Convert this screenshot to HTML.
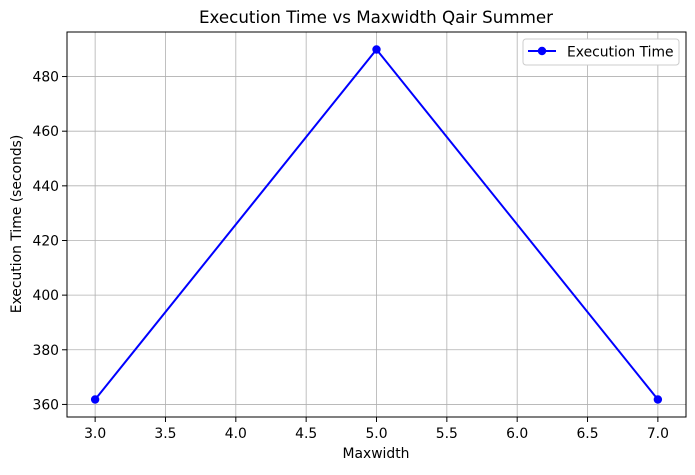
<!DOCTYPE html>
<html><head><meta charset="utf-8"><style>
body{margin:0;background:#fff;font-family:"Liberation Sans","DejaVu Sans",sans-serif;}
svg text{font-family:"DejaVu Sans","Liberation Sans",sans-serif;}
</style></head><body>
<svg id="chart" width="695" height="470">
<rect width="695" height="470" fill="#fff"/>
<g id="grid"></g><g id="axes"></g><g id="series"></g>
<text x="376" y="23" text-anchor="middle" font-size="16.7">Execution Time vs Maxwidth Qair Summer</text>
<text x="376" y="458" text-anchor="middle" font-size="13.9">Maxwidth</text>
<text transform="translate(21,224) rotate(-90)" text-anchor="middle" font-size="13.9">Execution Time (seconds)</text>
<g>
<rect x="523" y="39" width="156" height="26" rx="3" fill="#fff" stroke="#ccc"/>
<line x1="528" y1="51" x2="556" y2="51" stroke="blue" stroke-width="2"/>
<circle cx="542" cy="51" r="4.2" fill="blue"/>
<text x="567" y="56.5" font-size="13.9">Execution Time</text>
</g>
</svg>
<script>
const xs=[3,5,7];
const times=[361.8,489.9,361.8];
const xTicks=[3.0,3.5,4.0,4.5,5.0,5.5,6.0,6.5,7.0];
const yTicks=[360,380,400,420,440,460,480];
const L=67,R=686,T=32,B=417;
const xmin=2.8,xmax=7.2,ymin=355.4,ymax=496.3;
const X=v=>L+(v-xmin)/(xmax-xmin)*(R-L);
const Y=v=>B-(v-ymin)/(ymax-ymin)*(B-T);
const NS="http://www.w3.org/2000/svg";
function mk(t,a,p){const e=document.createElementNS(NS,t);for(const k in a)e.setAttribute(k,a[k]);p.appendChild(e);return e;}
const g=document.getElementById('grid'),ax=document.getElementById('axes'),s=document.getElementById('series');
xTicks.forEach(v=>{const x=X(v);
const l=mk('line',{x1:x,x2:x,y1:T,y2:B,stroke:'#b0b0b0','stroke-width':0.8},g);

mk('line',{x1:x,x2:x,y1:B,y2:B+5,stroke:'#000'},ax);
const t=mk('text',{x:x,y:B+21,'text-anchor':'middle','font-size':13.9},ax);t.textContent=v.toFixed(1);
});
yTicks.forEach(v=>{const y=Y(v);
const l=mk('line',{x1:L,x2:R,y1:y,y2:y,stroke:'#b0b0b0','stroke-width':0.8},g);

mk('line',{x1:L-5,x2:L,y1:y,y2:y,stroke:'#000'},ax);
const t=mk('text',{x:L-8,y:y+5,'text-anchor':'end','font-size':13.9},ax);t.textContent=v;
});
const fr=mk('rect',{x:L,y:T,width:R-L,height:B-T,fill:'none',stroke:'#000','stroke-width':1},ax);

const pl=mk('polyline',{points:xs.map((v,i)=>X(v)+','+Y(times[i])).join(' '),fill:'none',stroke:'blue','stroke-width':2},s);

xs.forEach((v,i)=>{const c=mk('circle',{cx:X(v),cy:Y(times[i]),r:4.2,fill:'blue'},s);
});
</script>
</body></html>
